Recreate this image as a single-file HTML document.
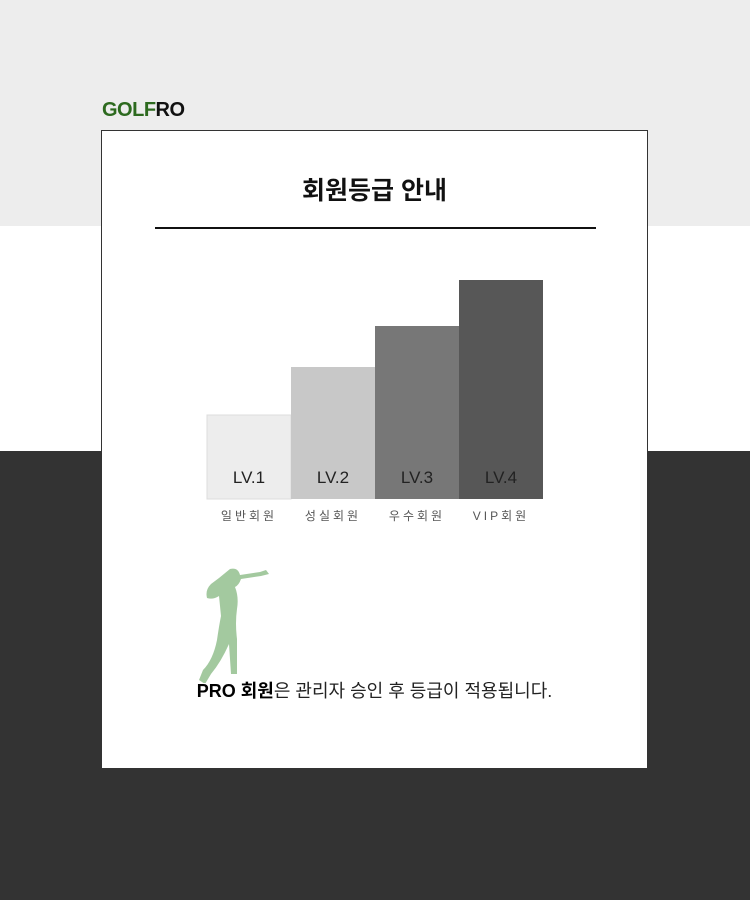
<!DOCTYPE html>
<html><head><meta charset="utf-8"><style>
body{margin:0;width:750px;height:900px;position:relative;overflow:hidden;font-family:"Liberation Sans","Noto Sans CJK KR",sans-serif;}
.bg1{position:absolute;left:0;top:0;width:750px;height:226px;background:#ededed}
.bg2{position:absolute;left:0;top:226px;width:750px;height:225px;background:#fff}
.bg3{position:absolute;left:0;top:451px;width:750px;height:449px;background:#333}
.logo{position:absolute;left:102px;top:99px;font-weight:bold;font-size:20px;letter-spacing:-0.5px}
.card{position:absolute;left:101px;top:130px;width:545px;height:637px;background:#fff;border:1px solid #333}
.title{position:absolute;left:0;width:545px;top:40px;text-align:center;font-size:25px;font-weight:bold;color:#111}
.rule{position:absolute;left:53px;top:96px;width:441px;height:2px;background:#111}
.note{position:absolute;left:0;width:545px;top:546px;text-align:center;font-size:18px;color:#222}
</style></head><body>
<div class="bg1"></div>
<div class="bg2"></div>
<div class="bg3"></div>
<div class="logo"><span style="color:#2d6a1f">GOLF</span><span style="color:#111">RO</span></div>
<div class="card">
<div class="title">회원등급 안내</div>
<div class="rule"></div>
<svg id="chart" width="545" height="420" style="position:absolute;left:0;top:0"></svg>
<svg width="100" height="120" style="position:absolute;left:78px;top:432px">
<path d="M50 6 q8 -2 10 6 l20 -3 l6 -2 l3 4 l-8 2 l-20 3 q-2 6 -6 8 q4 10 2 22 q-2 14 0 30 l0 35 l-6 0 l-2 -30 q-8 18 -18 30 l-6 10 l-6 -4 l4 -10 q10 -10 14 -30 q2 -14 4 -24 l-2 -20 q-6 4 -12 2 q-2 -8 4 -14 l8 -6 z" fill="#93c08e" opacity="0.85"/>
</svg>
<div class="note"><b style="color:#000">PRO 회원</b>은 관리자 승인 후 등급이 적용됩니다.</div>
</div>
<script>
const categories=["LV.1","LV.2","LV.3","LV.4"];
const names=["일반회원","성실회원","우수회원","VIP회원"];
const values=[84,132,173,219];
const svg=document.getElementById('chart');
const NS="http://www.w3.org/2000/svg";
const x0=105,bw=84,base=368;
const fills=["#ededed","#c8c8c8","#777777","#575757"];
function xs(i){return x0+i*bw;}
function ys(v){return base-v;}
categories.forEach((c,i)=>{
 const r=document.createElementNS(NS,'rect');
 r.setAttribute('x',xs(i));r.setAttribute('y',ys(values[i]));
 r.setAttribute('width',bw);r.setAttribute('height',base-ys(values[i]));
 r.setAttribute('fill',fills[i]);
 if(i==0){r.setAttribute('stroke','#ddd');}
 
 
 svg.appendChild(r);
 const t=document.createElementNS(NS,'text');
 t.setAttribute('x',xs(i)+bw/2);t.setAttribute('y',base-16);
 t.setAttribute('text-anchor','middle');t.setAttribute('font-size','17');t.setAttribute('fill','#222');
 t.textContent=c;
 
 
 svg.appendChild(t);
 const n=document.createElementNS(NS,'text');
 n.setAttribute('x',xs(i)+bw/2);n.setAttribute('y',base+21);
 n.setAttribute('text-anchor','middle');n.setAttribute('font-size','12');n.setAttribute('fill','#555');n.setAttribute('letter-spacing','3');
 n.textContent=names[i];
 
 
 svg.appendChild(n);
});
</script>
</body></html>
